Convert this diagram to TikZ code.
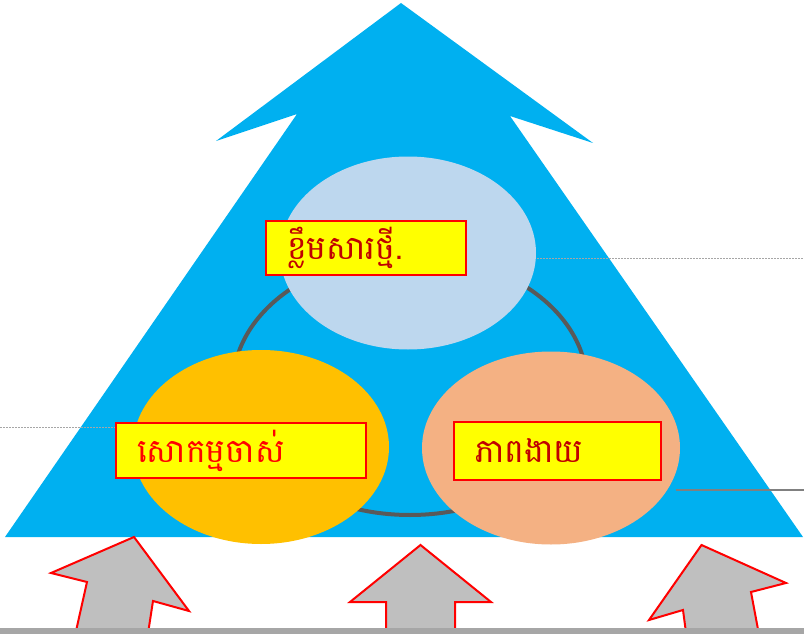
\documentclass[tikz,border=0pt]{standalone}
\usepackage{fontspec}
\usetikzlibrary{shapes.geometric}
\newfontfamily\khmerfont[Script=Khmer]{Battambang}
\definecolor{skyb}{HTML}{00B0F0}
\definecolor{lblue}{HTML}{BDD7EE}
\definecolor{gold}{HTML}{FFC000}
\definecolor{peach}{HTML}{F4B183}
\definecolor{ringgray}{HTML}{595959}
\definecolor{darkred}{HTML}{C00000}
\definecolor{brightred}{HTML}{FF0000}
\definecolor{boxyellow}{HTML}{FFFF00}
\definecolor{arrowgray}{HTML}{BFBFBF}
\definecolor{bargray}{HTML}{A6A6A6}
\tikzset{
  blob/.style={ellipse, draw=none, inner sep=0pt},
  labelbox/.style={rectangle, draw=brightred, line width=1.5pt, fill=boxyellow, inner xsep=21pt, inner ysep=0pt, align=left, font=\khmerfont\fontsize{33}{38}\selectfont},
  uparrow/.style={fill=arrowgray, draw=brightred, line width=2pt, line join=miter},
  leader/.style={gray!70, line width=0.6pt, dash pattern=on 2pt off 1pt},
}
\begin{document}
\begin{tikzpicture}[x=1pt,y=-1pt]
\useasboundingbox (0,0) rectangle (804,634);
% big blue arrow-triangle
\fill[skyb] (401,3) -- (593,143) -- (510,116) -- (803,537) -- (5,537) -- (297,114) -- (216,141) -- cycle;
% ring
\node[ellipse, draw=ringgray, line width=4pt, minimum width=354pt, minimum height=260pt, inner sep=0pt] (ring) at (410,385) {};
% ellipses
\node[blob, fill=lblue, minimum width=256pt, minimum height=193pt] (top) at (408,253) {};
\node[blob, fill=gold, minimum width=256pt, minimum height=194pt] (left) at (261,447) {};
\node[blob, fill=peach, minimum width=258pt, minimum height=193pt] (right) at (551,448) {};
% leader lines
\coordinate (rtend) at (804,258);
\coordinate (rtstart) at (537,258);
\draw[leader] (rtstart) -- (rtend);
\coordinate (lfstart) at (0,427);
\coordinate (lfend) at (116,427);
\draw[leader] (lfstart) -- (lfend);
\coordinate (rbstart) at (676,490);
\coordinate (rbend) at (804,490);
\draw[gray, line width=1.2pt] (rbstart) -- (rbend);
% label boxes
\node[labelbox, text=darkred, text width=158pt, minimum height=54pt] (topbox) at (366,248) {ខ្លឹមសារថ្មី.};
\node[labelbox, text=brightred, text width=208pt, minimum height=55pt] (leftbox) at (241,450.5) {សោកម្មចាស់};
\node[labelbox, text=darkred, text width=165pt, minimum height=58pt] (rightbox) at (557.5,451) {ភាពងាយ};
% bottom arrows
\draw[uparrow] (134,537) -- (189,611) -- (153,601) -- (147,640) -- (74,640) -- (87,582) -- (51,573) -- cycle;
\draw[uparrow] (420.5,545) -- (491,602) -- (455,602) -- (455,640) -- (386,640) -- (386,602) -- (350,602) -- cycle;
\draw[uparrow] (701.5,545) -- (786,583) -- (751,592) -- (760,640) -- (687,640) -- (683,610) -- (649,620) -- cycle;
% bottom bar
\fill[bargray] (0,628) rectangle (804,634);
\end{tikzpicture}
\end{document}
